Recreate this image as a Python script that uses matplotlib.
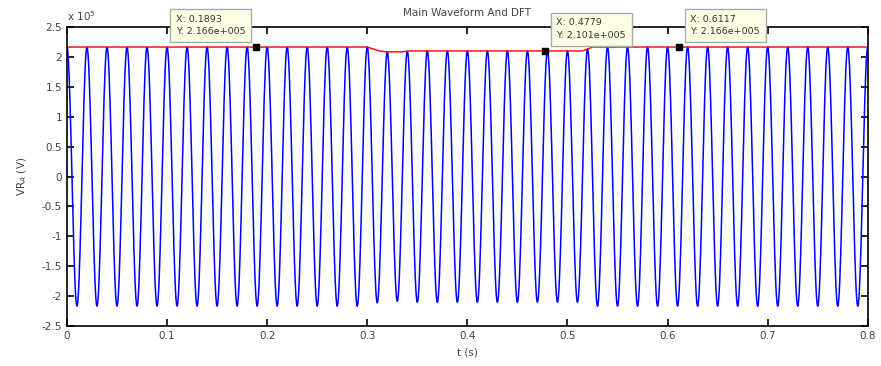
import matplotlib
matplotlib.use("Agg")
import matplotlib.pyplot as plt
import numpy as np
from matplotlib.ticker import FuncFormatter

# Signal parameters
FREQ_HZ = 50.0
T_END = 0.8
SAMPLE_RATE = 2000

# DFT magnitude (red trace), breakpoints
ENV_T = [0.0, 0.300, 0.312, 0.320, 0.334, 0.342, 0.515, 0.525, 0.8]
ENV_V = [2.166e5, 2.166e5, 2.10e5, 2.085e5, 2.085e5, 2.101e5, 2.101e5, 2.166e5, 2.166e5]

# Data tips
TIP_X = [0.1893, 0.4779, 0.6117]
TIP_Y = [2.166e5, 2.101e5, 2.166e5]
TIP_SIDE = ["left", "right", "right"]

t = np.arange(0, T_END + 1 / SAMPLE_RATE, 1 / SAMPLE_RATE)
env = np.interp(t, ENV_T, ENV_V)
wave = env * np.cos(2 * np.pi * FREQ_HZ * t)

fig = plt.figure(figsize=(8.81, 3.66), dpi=100)
ax = fig.add_axes([0.076, 0.109, 0.909, 0.817])

ax.plot(t, wave, color="#0000ff", linewidth=1.1)
ax.plot(t, env, color="#ff0000", linewidth=1.0)

ax.set_xlim(0, 0.8)
ax.set_ylim(-2.5e5, 2.5e5)
ax.set_xticks(np.arange(0, 0.81, 0.1))
ax.set_yticks(np.arange(-2.5e5, 2.51e5, 0.5e5))
ax.set_xticklabels(["0", "0.1", "0.2", "0.3", "0.4", "0.5", "0.6", "0.7", "0.8"])
ax.yaxis.set_major_formatter(FuncFormatter(lambda v, p: f"{v / 1e5:g}"))

ax.tick_params(direction="in", top=True, right=True, labelsize=7.5,
               labelcolor="#444", length=5, width=1.2)
for sp in ax.spines.values():
    sp.set_linewidth(1.2)

ax.text(0.0, 1.012, "x 10$^5$", transform=ax.transAxes, fontsize=7.5,
        color="#444", ha="left", va="bottom")

ax.set_title("Main Waveform And DFT", fontsize=7.5, color="#444", pad=8)
ax.set_xlabel("t (s)", fontsize=7.5, color="#444", labelpad=5)
ax.set_ylabel("VR$_A$ (V)", fontsize=7.5, color="#444", labelpad=9)

for x, y, side in zip(TIP_X, TIP_Y, TIP_SIDE):
    ax.plot(x, y, marker="s", color="black", markersize=5, zorder=5,
            clip_on=False)
    dx = -11 if side == "left" else 11
    ax.annotate(f"X: {x:.4f}\nY: {y:.3e}".replace("e+05", "e+005"),
                xy=(x, y), xytext=(dx, 11), textcoords="offset pixels",
                ha="right" if side == "left" else "left", va="bottom",
                multialignment="left",
                fontsize=6.8, color="#333", linespacing=1.5,
                bbox=dict(boxstyle="square,pad=0.6", facecolor="#ffffe6",
                          edgecolor="#aaaaaa", linewidth=1.0),
                annotation_clip=False, zorder=6)

fig.savefig("out.png", dpi=100, facecolor="white")
